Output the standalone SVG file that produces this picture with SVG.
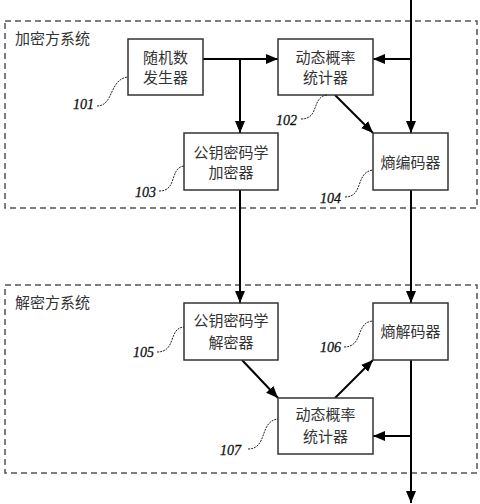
<svg xmlns="http://www.w3.org/2000/svg" width="480" height="504" viewBox="0 0 480 504">
<style>
.bg{fill:#fff}
.frame{fill:none;stroke:#555;stroke-width:1.5;stroke-dasharray:6,4}
.box{fill:#fff;stroke:#333;stroke-width:1.5}
.t{font-family:"Noto Sans CJK SC","Noto Sans CJK JP",sans-serif;font-size:15px;fill:#333;text-anchor:middle}
.st{font-family:"Noto Sans CJK SC","Noto Sans CJK JP",sans-serif;font-size:15px;fill:#333}
.lb{font-family:"Liberation Serif",serif;font-style:italic;font-size:14px;fill:#111;stroke:#111;stroke-width:0.3}
.c{fill:none;stroke:#000;stroke-width:2;marker-end:url(#ah)}
.w{fill:none;stroke:#222;stroke-width:1;stroke-dasharray:2,1}
</style>
<defs>
<marker id="ah" markerUnits="userSpaceOnUse" markerWidth="12" markerHeight="10" refX="12" refY="5" orient="auto">
<path d="M0,0 L12,5 L0,10 Z" fill="#000"/>
</marker>
</defs>
<rect class="bg" width="480" height="504"/>
<g id="encrypt-system">
<rect class="frame" x="5" y="21" width="472" height="187"/>
<text class="st" x="15" y="43.5">加密方系统</text>
</g>
<g id="decrypt-system">
<rect class="frame" x="5" y="285" width="472" height="188"/>
<text class="st" x="15" y="307.5">解密方系统</text>
</g>
<g id="connectors">
<line class="c" x1="203" y1="59" x2="278" y2="59"/>
<line class="c" x1="240" y1="59" x2="240" y2="133"/>
<line class="c" x1="411" y1="0" x2="411" y2="133"/>
<line class="c" x1="411" y1="59" x2="373" y2="59"/>
<line class="c" x1="335" y1="95" x2="373" y2="133"/>
<line class="c" x1="240" y1="190" x2="240" y2="303"/>
<line class="c" x1="411" y1="190" x2="411" y2="303"/>
<line class="c" x1="242" y1="360" x2="278" y2="398"/>
<line class="c" x1="335" y1="398" x2="373" y2="360"/>
<line class="c" x1="411" y1="360" x2="411" y2="503"/>
<line class="c" x1="411" y1="436" x2="373" y2="436"/>
</g>
<g id="n101">
<rect class="box" x="128" y="39" width="75" height="56"/>
<text class="t" x="165.5" y="62.5">随机数</text>
<text class="t" x="165.5" y="82.5">发生器</text>
<path class="w" d="M97,106 C114,106 109,79 128,77"/>
<text class="lb" x="73" y="109">101</text>
</g>
<g id="n102">
<rect class="box" x="278" y="39" width="95" height="56"/>
<text class="t" x="325.5" y="62.5">动态概率</text>
<text class="t" x="325.5" y="82.5">统计器</text>
<path class="w" d="M301,119 C320,119 311,97 327,95"/>
<text class="lb" x="276" y="125">102</text>
</g>
<g id="n103">
<rect class="box" x="184" y="133" width="94" height="57"/>
<text class="t" x="231" y="157.5">公钥密码学</text>
<text class="t" x="231" y="177.5">加密器</text>
<path class="w" d="M159,191 C178,191 169,168 184,166"/>
<text class="lb" x="135" y="197">103</text>
</g>
<g id="n104">
<rect class="box" x="373" y="133" width="75" height="57"/>
<text class="t" x="410.5" y="167.5">熵编码器</text>
<path class="w" d="M345,197 C364,197 355,172 373,170"/>
<text class="lb" x="320" y="203">104</text>
</g>
<g id="n105">
<rect class="box" x="184" y="303" width="94" height="57"/>
<text class="t" x="231" y="325.5">公钥密码学</text>
<text class="t" x="231" y="347.5">解密器</text>
<path class="w" d="M157,352 C177,352 168,328 184,327"/>
<text class="lb" x="133" y="357">105</text>
</g>
<g id="n106">
<rect class="box" x="373" y="303" width="75" height="57"/>
<text class="t" x="410.5" y="336.5">熵解码器</text>
<path class="w" d="M344,347 C364,347 355,322 373,321"/>
<text class="lb" x="320" y="352">106</text>
</g>
<g id="n107">
<rect class="box" x="278" y="398" width="95" height="56"/>
<text class="t" x="325.5" y="419.5">动态概率</text>
<text class="t" x="325.5" y="441.5">统计器</text>
<path class="w" d="M248,449 C268,449 259,421 278,419"/>
<text class="lb" x="220" y="455">107</text>
</g>
</svg>
